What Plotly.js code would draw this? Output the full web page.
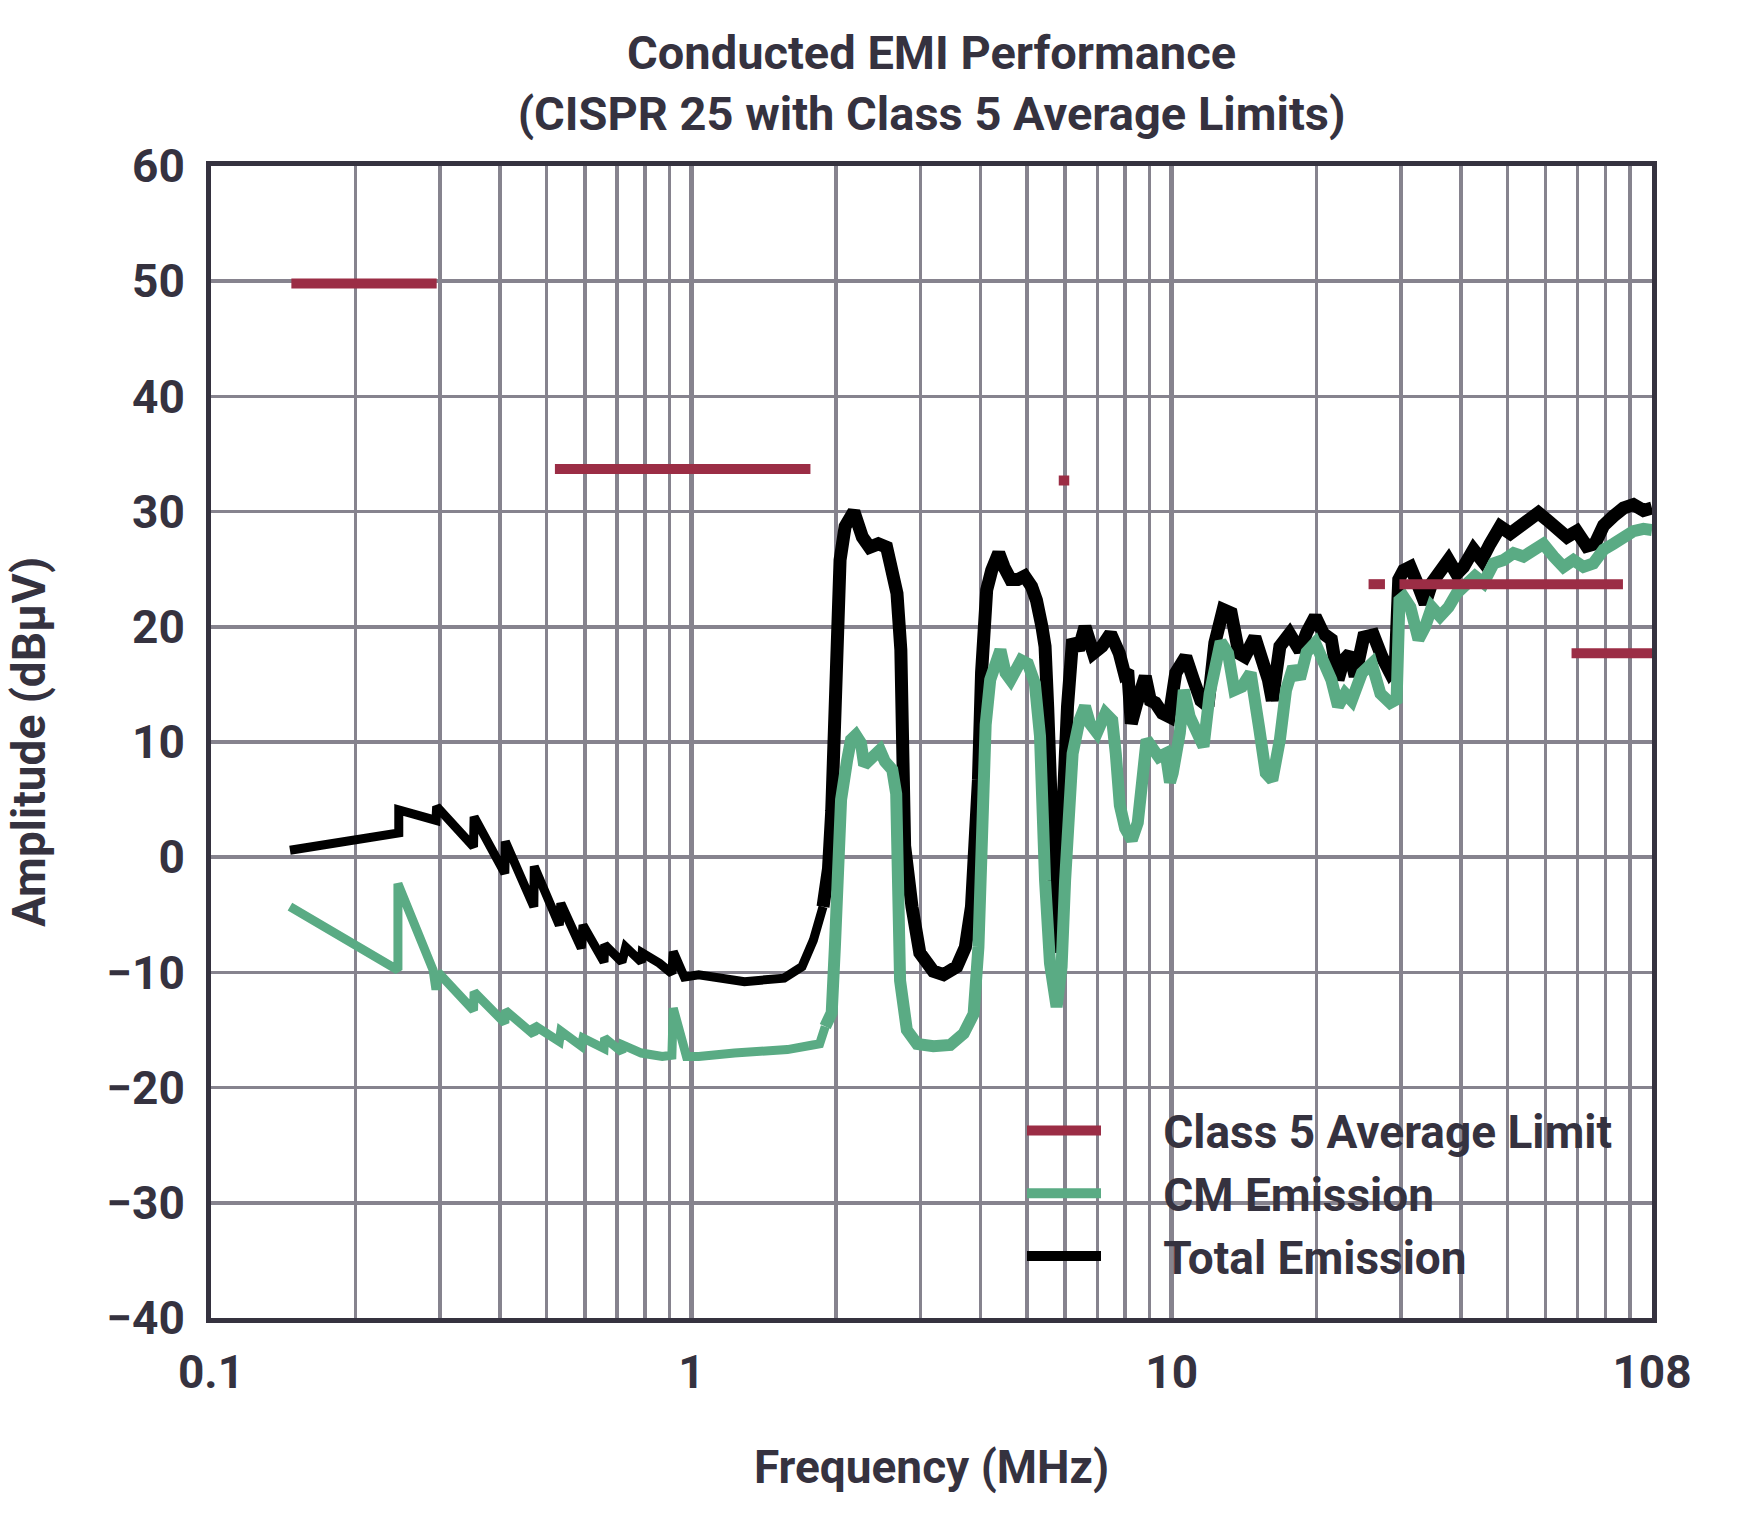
<!DOCTYPE html>
<html>
<head>
<meta charset="utf-8">
<script src="https://cdn.plot.ly/plotly-3.0.1.min.js"></script>
<style>
  html, body { margin: 0; padding: 0; background: #fff; }
  #emi-chart { width: 1761px; height: 1515px; }
</style>
</head>
<body>
<div id="emi-chart"></div>
<script>
// 数据（MHz / dBµV）
const limitFreq = [0.147, 0.295, null, 0.52, 1.77, null, 5.82, 6.12, null, 25.7, 27.8, null, 29.8, 87, null, 68, 108];
const limitAmp  = [49.8, 49.8, null, 33.7, 33.7, null, 32.7, 32.7, null, 23.7, 23.7, null, 23.7, 23.7, null, 17.7, 17.7];

const cmFreq = [
  0.146, 0.245, 0.245, 0.29, 0.294, 0.297, 0.352, 0.353, 0.409, 0.41,
  0.47, 0.471, 0.531, 0.535, 0.59, 0.595, 0.658, 0.66, 0.717, 0.72,
  0.787, 0.87, 0.911, 0.917, 0.977, 1.036, 1.23, 1.585, 1.79, 1.85,
  1.9, 1.96, 1.99, 2.02, 2.05, 2.11, 2.15, 2.2, 2.255, 2.29,
  2.35, 2.47, 2.53, 2.62, 2.67, 2.72, 2.81, 2.95, 3.19, 3.46,
  3.69, 3.87, 3.96, 4.02, 4.06, 4.1, 4.19, 4.4, 4.51, 4.62,
  4.86, 5.02, 5.19, 5.32, 5.45, 5.58, 5.76, 5.9, 6.0, 6.1,
  6.22, 6.43, 6.6, 6.76, 6.99, 7.28, 7.52, 7.65, 7.8, 8.0,
  8.26, 8.5, 8.7, 8.87, 9.18, 9.4, 9.72, 9.92, 10.05, 10.4,
  10.6, 10.9, 11.3, 11.65, 12.0, 12.4, 12.65, 13.1, 13.5, 14.0,
  14.6, 15.2, 15.7, 16.2, 16.8, 17.3, 17.9, 18.5, 19.1, 19.9,
  20.7, 21.5, 22.2, 22.97, 23.7, 24.9, 26.1, 27.2, 28.5, 29.4,
  29.8, 30.4, 31.4, 32.65, 33.7, 34.8, 36.2, 37.7, 39.2, 41.2,
  42.8, 44.6, 46.8, 49.1, 51.5, 54.0, 56.6, 59.4, 62.4, 65.4,
  68.6, 72.0, 75.5, 79.3, 83.1, 87.2, 91.5, 96.0, 100
];
const cmAmp = [
  -4.3, -9.8, -2.3, -9.8, -11.5, -10.0, -13.3, -11.7, -14.4, -13.3,
  -15.4, -14.6, -16.0, -15.1, -16.4, -15.7, -16.6, -15.7, -16.9, -16.3,
  -17.0, -17.3, -17.2, -13.1, -17.3, -17.3, -17.0, -16.7, -16.3, -16.2,
  -14.7, -13.5, -7.8, 0.9, 5.0, 8.4, 10.2, 10.6, 9.9, 8.0,
  8.4, 9.3, 8.3, 7.6, 5.5, -10.7, -15.0, -16.2, -16.4, -16.3,
  -15.3, -13.6, -7.8, 0.9, 6.7, 11.5, 15.4, 18.0, 16.0, 15.4,
  17.1, 16.8, 15.1, 10.5, -2.0, -9.2, -13.0, -9.5, -2.0, 4.0,
  9.0, 11.9, 13.1, 11.6, 10.8, 12.5, 11.9, 9.0, 4.5, 2.5,
  1.5, 3.0, 7.0, 10.2, 9.3, 8.7, 9.0, 6.5, 7.3, 10.8,
  14.5, 12.2, 10.8, 9.6, 14.2, 17.4, 18.7, 17.7, 14.5, 14.8,
  16.0, 11.3, 7.3, 6.7, 10.2, 14.5, 16.5, 15.5, 17.8, 18.6,
  17.1, 15.4, 13.1, 14.2, 13.6, 16.0, 16.8, 14.2, 13.4, 13.7,
  22.3, 22.6, 21.7, 18.9, 20.0, 21.7, 20.9, 21.7, 22.9, 23.8,
  24.4, 23.8, 25.5, 25.8, 26.4, 26.1, 26.7, 27.2, 26.1, 25.2,
  25.8, 25.2, 25.5, 26.7, 27.2, 27.8, 28.3, 28.5, 28.4
];

const totalFreq = [
  0.146, 0.246, 0.246, 0.294, 0.295, 0.352, 0.353, 0.409, 0.41, 0.47,
  0.471, 0.531, 0.535, 0.59, 0.595, 0.658, 0.66, 0.717, 0.73, 0.787,
  0.79, 0.858, 0.911, 0.917, 0.967, 1.036, 1.29, 1.56, 1.7, 1.795,
  1.88, 1.93, 1.96, 1.98, 2.0, 2.04, 2.09, 2.18, 2.27, 2.35,
  2.45, 2.55, 2.595, 2.68, 2.73, 2.76, 2.78, 2.88, 2.99, 3.19,
  3.35, 3.57, 3.72, 3.83, 3.9, 3.96, 4.02, 4.07, 4.12, 4.22,
  4.365, 4.475, 4.62, 4.78, 4.94, 5.11, 5.23, 5.37, 5.45, 5.52,
  5.58, 5.67, 5.76, 5.85, 5.95, 6.07, 6.22, 6.4, 6.6, 6.87,
  7.16, 7.46, 7.78, 7.97, 8.1, 8.24, 8.45, 8.81, 9.03, 9.25,
  9.56, 9.88, 10.2, 10.7, 11.1, 11.5, 11.9, 12.3, 12.8, 13.3,
  13.8, 14.2, 14.9, 15.4, 15.9, 16.2, 16.8, 17.6, 18.5, 19.1,
  19.9, 20.7, 21.5, 22.2, 22.8, 23.5, 24.1, 25.1, 26.3, 27.4,
  28.5, 29.2, 29.7, 30.4, 31.4, 32.65, 33.7, 34.8, 36.2, 37.7,
  39.2, 40.5, 42.5, 44.2, 46.0, 48.3, 50.7, 53.1, 55.8, 58.0,
  60.4, 63.4, 66.5, 69.7, 73.1, 76.1, 79.3, 83.1, 87.2, 91.5,
  96.0, 100
];
const totalAmp = [
  0.6, 2.1, 4.1, 3.2, 4.4, 0.9, 3.5, -1.4, 1.35, -4.3,
  -0.8, -5.9, -4.0, -7.9, -5.9, -9.1, -7.6, -9.1, -7.8, -9.1,
  -8.3, -9.2, -10.1, -8.2, -10.4, -10.2, -10.8, -10.5, -9.5, -7.2,
  -4.3, -1.0, 4.0, 10.0, 17.0, 25.8, 28.7, 30.0, 27.8, 26.9,
  27.2, 26.9, 25.5, 22.9, 18.0, 10.0, 1.0, -4.3, -8.3, -9.9,
  -10.2, -9.5, -7.8, -4.3, 0.9, 6.7, 16.0, 21.7, 23.2, 24.9,
  26.4, 25.2, 24.1, 24.1, 24.4, 23.5, 22.3, 20.0, 18.3, 13.0,
  6.7, 0.9, -8.3, -2.0, 6.7, 13.1, 18.9, 18.0, 20.0, 17.7,
  18.3, 19.4, 17.7, 16.0, 16.2, 11.6, 13.3, 15.7, 13.6, 13.4,
  12.5, 12.2, 16.0, 17.4, 15.4, 13.6, 13.1, 18.6, 21.5, 21.2,
  17.7, 17.4, 19.1, 17.4, 15.4, 13.6, 18.3, 19.4, 17.9, 19.5,
  20.9, 19.4, 18.9, 15.4, 17.1, 17.7, 15.7, 19.1, 19.3, 17.4,
  16.0, 16.5, 24.1, 24.9, 25.2, 23.5, 22.0, 23.8, 24.9, 25.8,
  24.6, 25.2, 26.7, 25.8, 27.2, 28.7, 28.1, 28.7, 29.6, 29.9,
  29.3, 28.4, 27.8, 28.3, 27.0, 27.2, 28.8, 29.6, 30.3, 30.6,
  30.1, 30.3
];

// 坐标轴刻度
const decadeTicks = [0.1, 1, 10, 100];
const decadeLabels = ['0.1', '1', '10', '108'];
const minorTicks = [0.2, 0.3, 0.4, 0.5, 0.6, 0.7, 0.8, 0.9, 2, 3, 4, 5, 6, 7, 8, 9, 20, 30, 40, 50, 60, 70, 80, 90];

const textColor = '#35323f';
const gridColor = '#86838e';
const font46 = { family: 'Roboto, Arial, sans-serif', size: 46, color: textColor, weight: 700 };
const font47 = { family: 'Roboto, Arial, sans-serif', size: 47, color: textColor, weight: 700 };

// 2 MHz 以上噪声多，线画粗一些；低频段细线
const splitMHz = 1.88;
function splitSeries(xs, ys) {
    let k = xs.findIndex(v => v >= splitMHz);
    return {
        low: { x: xs.slice(0, k + 1), y: ys.slice(0, k + 1) },
        high: { x: xs.slice(k), y: ys.slice(k) }
    };
}
const totalParts = splitSeries(totalFreq, totalAmp);
const cmParts = splitSeries(cmFreq, cmAmp);

// 图例文字前留空，拉开与线段的距离
const pad = '\u00a0\u00a0\u00a0\u00a0\u00a0';

const traces = [
  {
    type: 'scatter', mode: 'lines', name: pad + 'Total Emission',
    x: totalParts.low.x, y: totalParts.low.y,
    legendgroup: 'total', showlegend: false,
    line: { color: '#000000', width: 9 }
  },
  {
    type: 'scatter', mode: 'lines', name: pad + 'Total Emission',
    x: totalParts.high.x, y: totalParts.high.y,
    legendgroup: 'total', legendrank: 3,
    line: { color: '#000000', width: 13 }
  },
  {
    type: 'scatter', mode: 'lines', name: pad + 'CM Emission',
    x: cmParts.low.x, y: cmParts.low.y,
    legendgroup: 'cm', showlegend: false,
    line: { color: '#5aab84', width: 9 }
  },
  {
    type: 'scatter', mode: 'lines', name: pad + 'CM Emission',
    x: cmParts.high.x, y: cmParts.high.y,
    legendgroup: 'cm', legendrank: 2,
    line: { color: '#5aab84', width: 12 }
  },
  {
    type: 'scatter', mode: 'lines', name: pad + 'Class 5 Average Limit',
    x: limitFreq, y: limitAmp,
    connectgaps: false, legendrank: 1,
    line: { color: '#9b2d45', width: 10 }
  }
];

const layout = {
  width: 1761,
  height: 1515,
  margin: { l: 211, r: 109, t: 166, b: 197, autoexpand: false },
  paper_bgcolor: '#ffffff',
  plot_bgcolor: '#ffffff',
  font: font46,
  title: {
    text: 'Conducted EMI Performance<br>(CISPR 25 with Class 5 Average Limits)',
    font: font47,
    x: 0.529, xanchor: 'center',
    yref: 'container', y: 0.9546, yanchor: 'middle'
  },
  xaxis: {
    type: 'log',
    range: [-1, 2],
    tickmode: 'array',
    tickvals: decadeTicks,
    ticktext: decadeLabels,
    ticks: '',
    ticklabelstandoff: 10,
    tickfont: font46,
    showgrid: true,
    gridcolor: gridColor,
    gridwidth: 4.5,
    minor: { tickvals: minorTicks, showgrid: true, gridcolor: gridColor, gridwidth: 3.5, ticks: '' },
    showline: true, mirror: true, linecolor: textColor, linewidth: 5,
    zeroline: false,
    title: { text: 'Frequency (MHz)', font: font46, standoff: 54 },
    automargin: false,
    fixedrange: true
  },
  yaxis: {
    range: [-40, 60],
    tickmode: 'linear', tick0: -40, dtick: 10,
    ticks: '',
    ticklabelstandoff: 12,
    tickfont: font46,
    showgrid: true,
    gridcolor: gridColor,
    gridwidth: 3.5,
    showline: true, mirror: true, linecolor: textColor, linewidth: 5,
    zeroline: false,
    title: { text: 'Amplitude (dBμV)', font: font46, standoff: 48 },
    automargin: false,
    fixedrange: true
  },
  // 图例区域的白底
  shapes: [{
    type: 'rect', layer: 'below',
    xref: 'x domain', yref: 'y domain',
    x0: 0.5455, x1: 0.9938, y0: 0.0148, y1: 0.1944,
    fillcolor: '#ffffff', line: { width: 0 }
  }],
  showlegend: true,
  legend: {
    x: 0.5628, xanchor: 'left',
    y: 0.1944, yanchor: 'top',
    bgcolor: 'rgba(0,0,0,0)',
    borderwidth: 0,
    itemwidth: 74,
    tracegroupgap: 0,
    font: font46,
    traceorder: 'normal'
  }
};

Plotly.newPlot('emi-chart', traces, layout, { displayModeBar: false, staticPlot: true });
</script>
</body>
</html>
